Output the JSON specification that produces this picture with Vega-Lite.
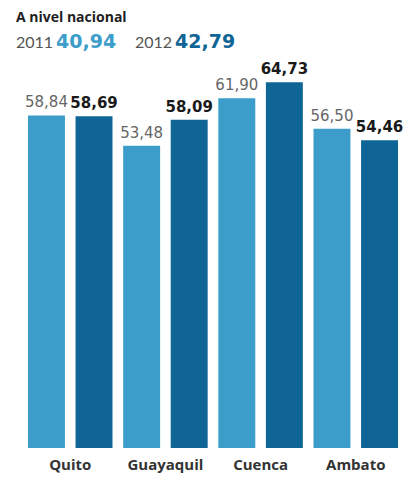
{
  "$schema": "https://vega.github.io/schema/vega-lite/v6.json",
  "padding": {"left": 16, "right": 8, "top": 11, "bottom": 4},
  "bounds": "flush",
  "spacing": 17,
  "background": "white",
  "config": {
    "locale": {"number": {"decimal": ",", "thousands": ".", "grouping": [3], "currency": ["", ""]}},
    "view": {"stroke": null},
    "font": "Open Sans"
  },
  "vconcat": [
    {
      "width": 119,
      "height": 20,
      "title": {"text": "A nivel nacional", "anchor": "start", "fontSize": 14, "font": "Open Sans", "fontWeight": "bold", "color": "#1e1e1e", "offset": 8},
      "data": {"values": [{"year": "2011", "nacional": 40.94}, {"year": "2012", "nacional": 42.79}]},
      "encoding": {
        "x": {"field": "year", "type": "ordinal", "scale": {"type": "point", "padding": 0}, "axis": null}
      },
      "layer": [
        {
          "mark": {"type": "text", "align": "left", "baseline": "alphabetic", "fontSize": 16, "color": "#555555", "font": "Lato"},
          "encoding": {"text": {"field": "year"}}
        },
        {
          "mark": {"type": "text", "align": "left", "baseline": "alphabetic", "fontSize": 19, "fontWeight": "bold", "font": "DejaVu Sans", "dx": 40},
          "encoding": {
            "text": {"field": "nacional", "type": "quantitative", "format": ".2f"},
            "color": {"field": "year", "type": "nominal", "scale": {"range": ["#3d9dca", "#0f6596"]}, "legend": null}
          }
        }
      ]
    },
    {
      "width": 394,
      "height": 373,
      "data": {"values": [
        {"city": "Quito", "year": "2011", "value": 58.84},
        {"city": "Quito", "year": "2012", "value": 58.69},
        {"city": "Guayaquil", "year": "2011", "value": 53.48},
        {"city": "Guayaquil", "year": "2012", "value": 58.09},
        {"city": "Cuenca", "year": "2011", "value": 61.90},
        {"city": "Cuenca", "year": "2012", "value": 64.73},
        {"city": "Ambato", "year": "2011", "value": 56.50},
        {"city": "Ambato", "year": "2012", "value": 54.46}
      ]},
      "encoding": {
        "x": {
          "field": "city", "type": "nominal",
          "sort": ["Quito", "Guayaquil", "Cuenca", "Ambato"],
          "scale": {"paddingInner": 0.112, "paddingOuter": 0.126},
          "axis": {"title": null, "domain": false, "ticks": false, "labelAngle": 0, "labelFontSize": 15, "labelFontWeight": "bold", "labelColor": "#333333", "labelFont": "Open Sans", "labelPadding": 9}
        },
        "xOffset": {"field": "year", "type": "nominal", "scale": {"paddingInner": 0.223, "paddingOuter": 0}},
        "y": {"field": "value", "type": "quantitative", "scale": {"domain": [0, 66], "nice": false}, "axis": null}
      },
      "layer": [
        {
          "mark": {"type": "bar"},
          "encoding": {
            "color": {"field": "year", "type": "nominal", "scale": {"range": ["#3a9bc6", "#0a6090"]}, "legend": null}
          }
        },
        {
          "transform": [{"filter": "datum.year == '2011'"}],
          "mark": {"type": "text", "baseline": "alphabetic", "dy": -8, "fontSize": 15, "font": "DejaVu Sans", "color": "#666666"},
          "encoding": {"text": {"field": "value", "type": "quantitative", "format": ".2f"}}
        },
        {
          "transform": [{"filter": "datum.year == '2012'"}],
          "mark": {"type": "text", "baseline": "alphabetic", "dy": -8, "fontSize": 15, "font": "DejaVu Sans", "fontWeight": "bold", "color": "#1a1a1a"},
          "encoding": {"text": {"field": "value", "type": "quantitative", "format": ".2f"}}
        }
      ]
    }
  ]
}
